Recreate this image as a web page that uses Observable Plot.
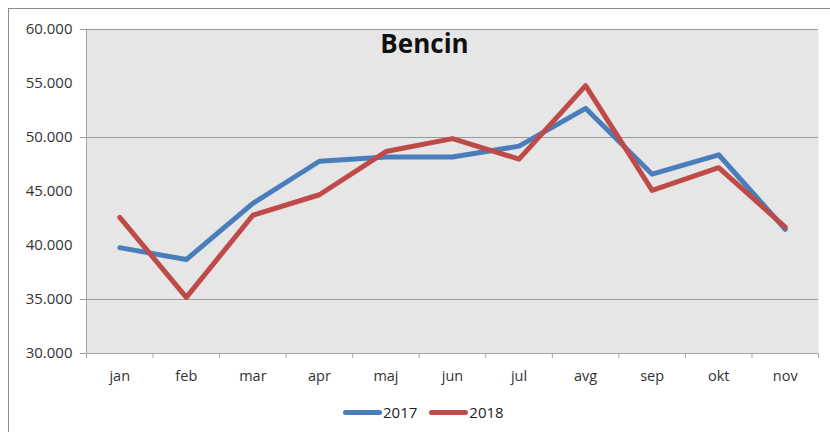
<!DOCTYPE html>
<html><head><meta charset="utf-8">
<script src="https://cdn.jsdelivr.net/npm/d3@7"></script>
<script src="https://cdn.jsdelivr.net/npm/@observablehq/plot@0.6"></script>
<style>
body{margin:0;background:#fff;font-family:"Open Sans",sans-serif;}
#wrap{position:relative;width:830px;height:432px;overflow:hidden;}
#border{position:absolute;left:8px;top:8px;width:830px;height:440px;border-top:1.5px solid #8c8c8c;border-left:1.5px solid #8c8c8c;box-sizing:border-box;}
#chart{position:absolute;left:0;top:0;}
#legend{position:absolute;top:402px;left:343px;display:flex;align-items:center;font-size:15px;color:#222;height:20px;}
.sw{display:inline-block;width:39px;height:5px;border-radius:3px;}
.lab{margin-left:1px;margin-right:12px;}
</style></head>
<body>
<div id="wrap"><div id="border"></div><div id="chart"></div>
<div id="legend"></div></div>
<script>
const months = ["jan","feb","mar","apr","maj","jun","jul","avg","sep","okt","nov"];
const v2017 = [39800, 38700, 43900, 47800, 48200, 48200, 49200, 52700, 46600, 48400, 41500];
const v2018 = [42600, 35200, 42800, 44700, 48700, 49900, 48000, 54800, 45100, 47200, 41700];
const seriesNames = ["2017","2018"];
const colors = ["#4a7ebb","#be4b48"];
const yTicks = [30000,35000,40000,45000,50000,55000,60000];
const gridVals = [35000,50000,60000];
const title = "Bencin";

const fmt = d => d3.format(",")(d).replace(/,/g,".");
const toRows = (vals, s) => vals.map((v,i)=>({x:i+0.5, y:v, s}));
const centers = months.map((m,i)=>i+0.5);

const chart = Plot.plot({
  width:830, height:432,
  marginLeft:86, marginRight:12, marginTop:29, marginBottom:79,
  style:{fontFamily:"Open Sans", fontSize:"14px", color:"#333", background:"transparent"},
  x:{type:"linear", domain:[0, months.length], axis:null},
  y:{domain:[30000,60000], axis:null},
  marks:[
    Plot.frame({fill:"#e6e6e6", stroke:null}),
    Plot.ruleY(gridVals, {stroke:"#9a9a9a", strokeWidth:1}),
    Plot.axisY({ticks:yTicks, tickSize:0, tickPadding:14, tickFormat:fmt, fontSize:15, fill:"#333", label:null}),
    Plot.axisY({ticks:gridVals.concat([30000]), tickSize:6, tickFormat:()=>"", stroke:"#9a9a9a", label:null}),
    Plot.axisX({ticks:d3.range(0, months.length+1), tickSize:5, tickFormat:()=>"", stroke:"#a6a6a6", label:null}),
    Plot.axisX({ticks:centers, tickSize:0, tickPadding:17, tickFormat:d=>months[Math.floor(d)], fontSize:14.5, fill:"#333", label:null}),
    Plot.ruleX([0], {stroke:"#a6a6a6"}),
    Plot.ruleY([30000], {stroke:"#a6a6a6"}),
    Plot.line(toRows(v2017, seriesNames[0]), {x:"x", y:"y", stroke:colors[0], strokeWidth:5}),
    Plot.line(toRows(v2018, seriesNames[1]), {x:"x", y:"y", stroke:colors[1], strokeWidth:5}),
    Plot.text([title], {frameAnchor:"top", lineAnchor:"top", dx:-28, dy:5, fontSize:26, fontWeight:"bold", fill:"#111"})
  ]
});
document.getElementById("chart").appendChild(chart);

const leg = document.getElementById("legend");
seriesNames.forEach((n,i)=>{
  const sw = document.createElement("span"); sw.className="sw"; sw.style.background=colors[i];
  const lb = document.createElement("span"); lb.className="lab"; lb.textContent=n;
  leg.appendChild(sw); leg.appendChild(lb);
});
</script>
</body></html>
